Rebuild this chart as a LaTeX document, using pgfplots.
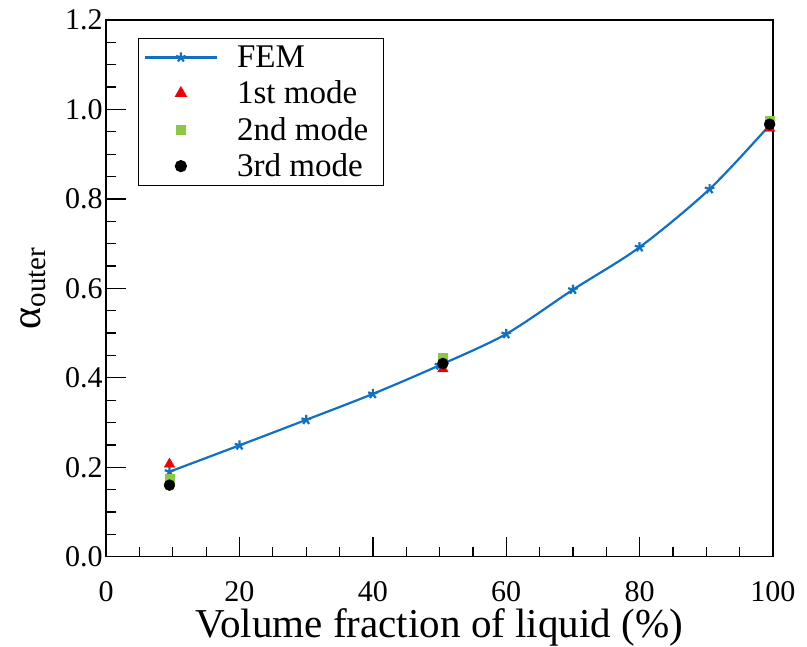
\documentclass[border=0pt]{standalone}
\usepackage{fontspec}
\setmainfont{Liberation Serif}
\usepackage{pgfplots}
\pgfplotsset{compat=1.18}
\definecolor{femblue}{RGB}{16,112,196}
\definecolor{modered}{RGB}{240,0,0}
\definecolor{modegreen}{RGB}{140,200,70}
\begin{document}
\begin{tikzpicture}
\begin{axis}[
  name=ax,
  scale only axis,
  width=666pt, height=536pt,
  xmin=0, xmax=100, ymin=0, ymax=1.2,
  xtick={0,20,...,100}, ytick={0,0.2,...,1.2},
  minor x tick num=3, minor y tick num=3,
  tick pos=left, tick align=inside,
  major tick length=20pt, minor tick length=10pt,
  axis line style={line width=1.6pt},
  every tick/.style={line width=1.3pt, black},
  /pgf/number format/assume math mode=true,
  yticklabel style={/pgf/number format/fixed,/pgf/number format/fixed zerofill,/pgf/number format/precision=1},
  ticklabel style={font=\fontsize{30}{30}\selectfont},
  xticklabel style={yshift=-21pt},
  xlabel={Volume fraction of liquid (\%)},
  xlabel style={font=\fontsize{41}{41}\selectfont, yshift=0pt},
  ylabel={\fontsize{42}{42}\selectfont α\raisebox{-0.3ex}{\fontsize{29}{29}\selectfont outer}},
  ylabel style={yshift=12pt},
  legend style={at={(0.048,0.966)}, anchor=north west, draw=black, line width=1.2pt,
    font=\fontsize{33}{33}\selectfont, row sep=8pt, column sep=17pt, inner xsep=5pt, inner ysep=5pt,
    nodes={font=\fontsize{33}{33}\selectfont}},
  legend cell align=left,
  legend image code/.code={\draw[mark repeat=2,mark phase=2,#1] plot coordinates {(0pt,0pt) (36pt,0pt) (72pt,0pt)};},
]
\addplot[femblue, line width=2.2pt, smooth, mark=star, mark size=5pt, mark options={line width=2.2pt}] coordinates {
 (9.5,0.190) (20,0.249) (30,0.306) (40,0.364) (50,0.428) (60,0.498) (70,0.597) (80,0.692) (90.5,0.822) (99.5,0.965)};
\addlegendentry{FEM}
\addplot[only marks, mark=triangle*, mark size=6pt, color=modered] coordinates {
 (9.5,0.207) (50.5,0.420) (99.5,0.958)};
\addlegendentry{1st mode}
\addplot[only marks, mark=square*, mark size=4.5pt, color=modegreen] coordinates {
 (9.5,0.175) (50.5,0.445) (99.5,0.975)};
\addlegendentry{2nd mode\hspace*{8pt}}
\addplot[only marks, mark=*, mark size=5.5pt, color=black] coordinates {
 (9.5,0.160) (50.5,0.432) (99.5,0.967)};
\addlegendentry{3rd mode}
\end{axis}
\pgfresetboundingbox
\path[use as bounding box] ([shift={(-106pt,-90pt)}]ax.south west) rectangle ([shift={(34pt,20pt)}]ax.north east);
\end{tikzpicture}
\end{document}
